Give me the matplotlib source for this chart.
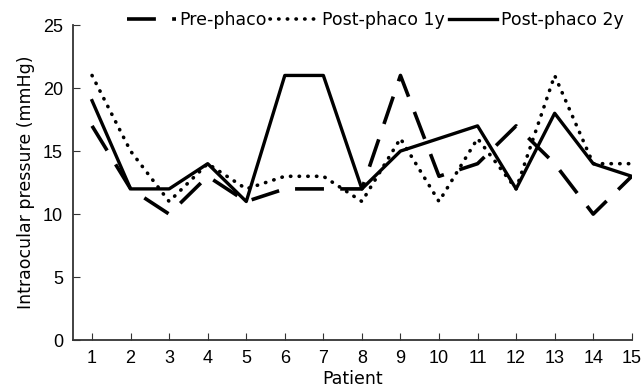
from matplotlib import pyplot as plt
import numpy as np

plt.rcParams['font.family'] = ['Liberation Sans', 'DejaVu Sans']

patients = np.arange(1, 16)
pre = [17, 12, 10, 13, 11, 12, 12, 12, 21, 13, 14, 17, 14, 10, 13]
post1 = [21, 15, 11, 14, 12, 13, 13, 11, 16, 11, 16, 12, 21, 14, 14]
post2 = [19, 12, 12, 14, 11, 21, 21, 12, 15, 16, 17, 12, 18, 14, 13]

fig = plt.figure(figsize=(6.44, 3.91), dpi=100)
ax = fig.add_axes([0.113, 0.130, 0.868, 0.806])

ax.plot(patients, pre, color='black', lw=2.6, dashes=(8, 4.5), label='Pre-phaco')
ax.plot(patients, post1, color='black', lw=2.6, dashes=(0.1, 2.3),
        dash_capstyle='round', label='Post-phaco 1y')
ax.plot(patients, post2, color='black', lw=2.4, label='Post-phaco 2y')

ax.set_xlim(0.5, 15)
ax.set_ylim(0, 25)
ax.set_xticks(patients)
ax.set_yticks(range(0, 26, 5))
ax.tick_params(direction='in', length=5, color='#333333', labelsize=13, pad=7)
for s in ['top', 'right']:
    ax.spines[s].set_visible(False)
for s in ['left', 'bottom']:
    ax.spines[s].set_color('#333333')
    ax.spines[s].set_linewidth(1.3)
ax.set_xlabel('Patient', fontsize=12.5, family='DejaVu Sans', labelpad=2)
ax.set_ylabel('Intraocular pressure (mmHg)', fontsize=12.5, family='DejaVu Sans',
              labelpad=6)

fig.legend(loc='center', bbox_to_anchor=(0.583, 0.949), ncol=3, frameon=False,
           prop={'family': 'DejaVu Sans', 'size': 12.5},
           handlelength=2.8, columnspacing=0.2, handletextpad=0.2)

plt.savefig('out.png', dpi=100)
